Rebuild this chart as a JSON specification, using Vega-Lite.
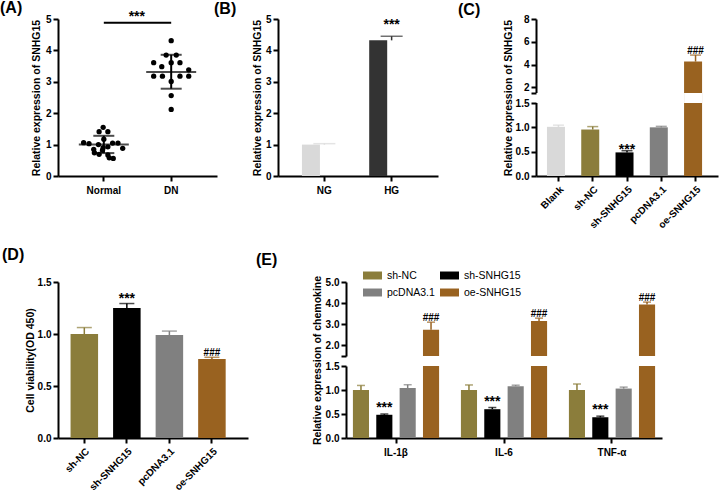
{
"$schema": "https://vega.github.io/schema/vega-lite/v6.json",
"autosize": {"type": "none"},
"padding": {"left": 58, "top": 19, "right": 662, "bottom": 473},
"background": "white",
"config": {
  "font": "Liberation Sans",
  "view": {"stroke": null},
  "axis": {"domain": true, "ticks": true, "labelOverlap": false, "domainColor": "#000", "domainWidth": 2, "tickColor": "#000", "tickWidth": 2, "tickSize": 5, "labelFont": "Liberation Sans", "labelFontSize": 10, "labelFontWeight": "bold", "labelColor": "#000", "titleFont": "Liberation Sans", "titleFontSize": 10.5, "titleFontWeight": "bold", "titleColor": "#000", "grid": false, "labelPadding": 2, "titlePadding": 4},
  "title": {"fontSize": 16, "fontWeight": "bold", "anchor": "start", "frame": "group", "color": "#000", "font": "Liberation Sans"}
},
"datasets": {
  "A": [
    {"g": "Normal", "v": 1.55, "j": -0.01}, {"g": "Normal", "v": 1.41, "j": -0.07}, {"g": "Normal", "v": 1.41, "j": 0.06},
    {"g": "Normal", "v": 1.17, "j": 0.0}, {"g": "Normal", "v": 1.06, "j": -0.30}, {"g": "Normal", "v": 1.03, "j": -0.22},
    {"g": "Normal", "v": 1.0, "j": -0.08}, {"g": "Normal", "v": 1.05, "j": 0.13}, {"g": "Normal", "v": 1.05, "j": 0.21},
    {"g": "Normal", "v": 0.93, "j": 0.06}, {"g": "Normal", "v": 0.85, "j": -0.15}, {"g": "Normal", "v": 0.88, "j": 0.28},
    {"g": "Normal", "v": 0.82, "j": -0.02}, {"g": "Normal", "v": 0.74, "j": -0.14}, {"g": "Normal", "v": 0.69, "j": -0.07},
    {"g": "Normal", "v": 0.67, "j": 0.06}, {"g": "Normal", "v": 0.58, "j": 0.08}, {"g": "Normal", "v": 0.56, "j": 0.14},
    {"g": "Normal", "v": 0.9, "j": -0.01},
    {"g": "DN", "v": 4.31, "j": 0.0}, {"g": "DN", "v": 3.85, "j": -0.075}, {"g": "DN", "v": 3.85, "j": 0.075},
    {"g": "DN", "v": 3.61, "j": -0.26}, {"g": "DN", "v": 3.48, "j": -0.14}, {"g": "DN", "v": 3.61, "j": 0.0},
    {"g": "DN", "v": 3.61, "j": 0.13}, {"g": "DN", "v": 3.38, "j": 0.26}, {"g": "DN", "v": 3.18, "j": -0.26},
    {"g": "DN", "v": 3.18, "j": -0.13}, {"g": "DN", "v": 3.01, "j": 0.0}, {"g": "DN", "v": 3.18, "j": 0.13},
    {"g": "DN", "v": 3.18, "j": 0.26}, {"g": "DN", "v": 2.56, "j": 0.0}, {"g": "DN", "v": 2.12, "j": 0.0}
  ],
  "Asum": [
    {"g": "Normal", "mean": 1.0, "lo": 0.73, "hi": 1.28},
    {"g": "DN", "mean": 3.31, "lo": 2.78, "hi": 3.86}
  ],
  "Asig": [{"a": "Normal", "b": "DN", "y": 4.88, "t": "***"}],
  "B": [
    {"g": "NG", "v": 1.0, "hi": 1.03, "star": ""},
    {"g": "HG", "v": 4.32, "hi": 4.45, "star": "***"}
  ],
  "C": [
    {"g": "Blank", "v": 1.01, "hi": 1.045, "star": "", "hash": ""},
    {"g": "sh-NC", "v": 0.955, "hi": 1.015, "star": "", "hash": ""},
    {"g": "sh-SNHG15", "v": 0.485, "hi": 0.52, "star": "***", "hash": ""},
    {"g": "pcDNA3.1", "v": 1.0, "hi": 1.02, "star": "", "hash": ""},
    {"g": "oe-SNHG15", "v": 4.26, "hi": 4.83, "star": "", "hash": "###"}
  ],
  "D": [
    {"g": "sh-NC", "v": 1.0, "hi": 1.062, "star": "", "hash": ""},
    {"g": "sh-SNHG15", "v": 1.25, "hi": 1.293, "star": "***", "hash": ""},
    {"g": "pcDNA3.1", "v": 0.99, "hi": 1.028, "star": "", "hash": ""},
    {"g": "oe-SNHG15", "v": 0.76, "hi": 0.776, "star": "", "hash": "###"}
  ],
  "E": [
    {"c": "IL-1β", "g": "sh-NC", "v": 1.0, "hi": 1.095, "star": "", "hash": ""},
    {"c": "IL-1β", "g": "sh-SNHG15", "v": 0.484, "hi": 0.5, "star": "***", "hash": ""},
    {"c": "IL-1β", "g": "pcDNA3.1", "v": 1.04, "hi": 1.11, "star": "", "hash": ""},
    {"c": "IL-1β", "g": "oe-SNHG15", "v": 2.74, "hi": 3.1, "star": "", "hash": "###"},
    {"c": "IL-6", "g": "sh-NC", "v": 1.0, "hi": 1.105, "star": "", "hash": ""},
    {"c": "IL-6", "g": "sh-SNHG15", "v": 0.6, "hi": 0.635, "star": "***", "hash": ""},
    {"c": "IL-6", "g": "pcDNA3.1", "v": 1.08, "hi": 1.1, "star": "", "hash": ""},
    {"c": "IL-6", "g": "oe-SNHG15", "v": 3.16, "hi": 3.29, "star": "", "hash": "###"},
    {"c": "TNF-α", "g": "sh-NC", "v": 1.0, "hi": 1.125, "star": "", "hash": ""},
    {"c": "TNF-α", "g": "sh-SNHG15", "v": 0.43, "hi": 0.455, "star": "***", "hash": ""},
    {"c": "TNF-α", "g": "pcDNA3.1", "v": 1.03, "hi": 1.06, "star": "", "hash": ""},
    {"c": "TNF-α", "g": "oe-SNHG15", "v": 3.93, "hi": 4.05, "star": "", "hash": "###"}
  ],
  "empty": []
},
"bounds": "flush",
"spacing": 263,
"resolve": {"scale": {"color": "independent"}, "legend": {"color": "independent"}},
"vconcat": [
 {
  "bounds": "flush",
  "spacing": 0,
  "resolve": {"scale": {"color": "independent"}, "legend": {"color": "independent"}},
  "hconcat": [
  {
    "width": 159, "height": 157,
    "title": {"text": "(A)", "dx": -58, "offset": -6},
    "layer": [
      {
        "data": {"name": "A"},
        "mark": {"type": "circle", "size": 28, "opacity": 1, "color": "#000"},
        "encoding": {
          "x": {"field": "g", "type": "nominal", "title": null, "scale": {"domain": ["Normal", "DN"], "paddingInner": 0, "paddingOuter": 0.18}, "axis": {"labelAngle": 0, "values": ["Normal", "DN"], "labelPadding": 4}},
          "xOffset": {"field": "j", "type": "quantitative", "scale": {"domain": [-1, 1], "range": [-33.7, 101.1]}},
          "y": {"field": "v", "type": "quantitative", "title": "Relative expression of SNHG15", "scale": {"domain": [0, 5]}, "axis": {"values": [0, 1, 2, 3, 4, 5]}}
        }
      },
      {
        "data": {"name": "Asum"},
        "mark": {"type": "tick", "orient": "horizontal", "size": 50, "thickness": 2, "color": "#000"},
        "encoding": {
          "x": {"field": "g", "type": "nominal", "title": null, "scale": {"domain": ["Normal", "DN"], "paddingInner": 0, "paddingOuter": 0.18}, "axis": {"labelAngle": 0, "values": ["Normal", "DN"], "labelPadding": 4}},
          "y": {"field": "mean", "type": "quantitative", "title": "Relative expression of SNHG15", "scale": {"domain": [0, 5]}, "axis": {"values": [0, 1, 2, 3, 4, 5]}}
        }
      },
      {
        "data": {"name": "Asum"},
        "mark": {"type": "rule", "strokeWidth": 2, "color": "#000"},
        "encoding": {
          "x": {"field": "g", "type": "nominal", "title": null, "scale": {"domain": ["Normal", "DN"], "paddingInner": 0, "paddingOuter": 0.18}, "axis": {"labelAngle": 0, "values": ["Normal", "DN"], "labelPadding": 4}},
          "y": {"field": "lo", "type": "quantitative", "title": "Relative expression of SNHG15", "scale": {"domain": [0, 5]}, "axis": {"values": [0, 1, 2, 3, 4, 5]}},
          "y2": {"field": "hi"}
        }
      },
      {
        "data": {"name": "Asum"},
        "mark": {"type": "tick", "orient": "horizontal", "size": 21, "thickness": 2, "color": "#000"},
        "encoding": {
          "x": {"field": "g", "type": "nominal", "title": null, "scale": {"domain": ["Normal", "DN"], "paddingInner": 0, "paddingOuter": 0.18}, "axis": {"labelAngle": 0, "values": ["Normal", "DN"], "labelPadding": 4}},
          "y": {"field": "lo", "type": "quantitative", "title": "Relative expression of SNHG15", "scale": {"domain": [0, 5]}, "axis": {"values": [0, 1, 2, 3, 4, 5]}}
        }
      },
      {
        "data": {"name": "Asum"},
        "mark": {"type": "tick", "orient": "horizontal", "size": 21, "thickness": 2, "color": "#000"},
        "encoding": {
          "x": {"field": "g", "type": "nominal", "title": null, "scale": {"domain": ["Normal", "DN"], "paddingInner": 0, "paddingOuter": 0.18}, "axis": {"labelAngle": 0, "values": ["Normal", "DN"], "labelPadding": 4}},
          "y": {"field": "hi", "type": "quantitative", "title": "Relative expression of SNHG15", "scale": {"domain": [0, 5]}, "axis": {"values": [0, 1, 2, 3, 4, 5]}}
        }
      },
      {
        "data": {"name": "Asig"},
        "mark": {"type": "rule", "strokeWidth": 2, "color": "#000"},
        "encoding": {
          "x": {"field": "a", "type": "nominal", "title": null, "scale": {"domain": ["Normal", "DN"], "paddingInner": 0, "paddingOuter": 0.18}, "axis": {"labelAngle": 0, "values": ["Normal", "DN"], "labelPadding": 4}},
          "x2": {"field": "b"},
          "y": {"field": "y", "type": "quantitative", "title": "Relative expression of SNHG15", "scale": {"domain": [0, 5]}, "axis": {"values": [0, 1, 2, 3, 4, 5]}}
        }
      },
      {
        "data": {"name": "Asig"},
        "mark": {"type": "text", "fontSize": 14, "fontWeight": "bold", "baseline": "alphabetic", "dx": 33, "dy": -2, "color": "#000"},
        "encoding": {
          "x": {"field": "a", "type": "nominal", "title": null, "scale": {"domain": ["Normal", "DN"], "paddingInner": 0, "paddingOuter": 0.18}, "axis": {"labelAngle": 0, "values": ["Normal", "DN"], "labelPadding": 4}},
          "y": {"field": "y", "type": "quantitative", "title": "Relative expression of SNHG15", "scale": {"domain": [0, 5]}, "axis": {"values": [0, 1, 2, 3, 4, 5]}},
          "text": {"field": "t"}
        }
      }
    ]
  },
  {"width": 61, "height": 157, "data": {"name": "empty"}, "mark": {"type": "point", "opacity": 0}, "encoding": {}},
  {
    "width": 160, "height": 157,
    "title": {"text": "(B)", "dx": -64, "offset": -3},
    "data": {"name": "B"},
    "encoding": {
      "x": {"field": "g", "type": "nominal", "title": null, "scale": {"domain": ["NG", "HG"], "paddingInner": 0.333, "paddingOuter": 0.356}, "axis": {"labelAngle": 0, "labelPadding": 4}},
      "color": {"field": "g", "type": "nominal", "scale": {"domain": ["NG", "HG"], "range": ["#d9d9d9", "#333333"]}, "legend": null}
    },
    "layer": [
      {"mark": {"type": "bar"}, "encoding": {"y": {"field": "v", "type": "quantitative", "title": "Relative expression of SNHG15", "scale": {"domain": [0, 5]}, "axis": {"values": [0, 1, 2, 3, 4, 5], "titlePadding": 3}}}},
      {"mark": {"type": "rule", "strokeWidth": 1.5}, "encoding": {"y": {"field": "v", "type": "quantitative", "title": "Relative expression of SNHG15", "scale": {"domain": [0, 5]}, "axis": {"values": [0, 1, 2, 3, 4, 5], "titlePadding": 3}}, "y2": {"field": "hi"}}},
      {"mark": {"type": "tick", "orient": "horizontal", "size": 22, "thickness": 1.5}, "encoding": {"y": {"field": "hi", "type": "quantitative", "title": "Relative expression of SNHG15", "scale": {"domain": [0, 5]}, "axis": {"values": [0, 1, 2, 3, 4, 5], "titlePadding": 3}}}},
      {"mark": {"type": "text", "fontSize": 14, "fontWeight": "bold", "baseline": "alphabetic", "dy": -7}, "encoding": {"y": {"field": "hi", "type": "quantitative", "title": "Relative expression of SNHG15", "scale": {"domain": [0, 5]}, "axis": {"values": [0, 1, 2, 3, 4, 5], "titlePadding": 3}}, "text": {"field": "star"}, "color": {"value": "#000"}}}
    ]
  },
  {"width": 98, "height": 157, "data": {"name": "empty"}, "mark": {"type": "point", "opacity": 0}, "encoding": {}},
  {
    "width": 182, "height": 157,
    "title": {"text": "(C)", "dx": -78, "offset": -4},
    "data": {"name": "C"},
    "encoding": {
      "x": {"field": "g", "type": "nominal", "title": null, "scale": {"domain": ["Blank", "sh-NC", "sh-SNHG15", "pcDNA3.1", "oe-SNHG15"], "paddingInner": 0.33, "paddingOuter": 0.32}, "axis": {"labelAngle": -45, "labelPadding": 3}},
      "color": {"field": "g", "type": "nominal", "scale": {"domain": ["Blank", "sh-NC", "sh-SNHG15", "pcDNA3.1", "oe-SNHG15"], "range": ["#d9d9d9", "#8b7d3b", "#000000", "#808080", "#996220"]}, "legend": null}
    },
    "layer": [
      {"mark": {"type": "bar"}, "encoding": {"y": {"field": "v", "type": "quantitative", "title": "Relative expression of SNHG15", "scale": {"domain": [0, 1.5, 1.5001, 8], "range": [157, 84, 74, 0], "nice": false, "zero": false}, "axis": {"values": [0, 0.5, 1, 1.5, 1.5001, 2, 4, 6, 8], "labelExpr": "datum.value == 1.5001 ? '' : datum.value < 1.6 ? format(datum.value, '.1f') : format(datum.value, 'd')", "domainDash": [73.5, 10, 300], "titlePadding": 2}}}},
      {"mark": {"type": "bar"}, "encoding": {"y": {"datum": 1.5, "type": "quantitative", "title": "Relative expression of SNHG15", "scale": {"domain": [0, 1.5, 1.5001, 8], "range": [157, 84, 74, 0], "nice": false, "zero": false}, "axis": {"values": [0, 0.5, 1, 1.5, 1.5001, 2, 4, 6, 8], "labelExpr": "datum.value == 1.5001 ? '' : datum.value < 1.6 ? format(datum.value, '.1f') : format(datum.value, 'd')", "domainDash": [73.5, 10, 300], "titlePadding": 2}}, "y2": {"datum": 1.5001}, "color": {"value": "#ffffff"}}},
      {"mark": {"type": "rule", "strokeWidth": 1.5}, "encoding": {"y": {"field": "v", "type": "quantitative", "title": "Relative expression of SNHG15", "scale": {"domain": [0, 1.5, 1.5001, 8], "range": [157, 84, 74, 0], "nice": false, "zero": false}, "axis": {"values": [0, 0.5, 1, 1.5, 1.5001, 2, 4, 6, 8], "labelExpr": "datum.value == 1.5001 ? '' : datum.value < 1.6 ? format(datum.value, '.1f') : format(datum.value, 'd')", "domainDash": [73.5, 10, 300], "titlePadding": 2}}, "y2": {"field": "hi"}}},
      {"mark": {"type": "tick", "orient": "horizontal", "size": 11, "thickness": 1.5}, "encoding": {"y": {"field": "hi", "type": "quantitative", "title": "Relative expression of SNHG15", "scale": {"domain": [0, 1.5, 1.5001, 8], "range": [157, 84, 74, 0], "nice": false, "zero": false}, "axis": {"values": [0, 0.5, 1, 1.5, 1.5001, 2, 4, 6, 8], "labelExpr": "datum.value == 1.5001 ? '' : datum.value < 1.6 ? format(datum.value, '.1f') : format(datum.value, 'd')", "domainDash": [73.5, 10, 300], "titlePadding": 2}}}},
      {"mark": {"type": "text", "fontSize": 14, "fontWeight": "bold", "baseline": "alphabetic", "dy": 3.5}, "encoding": {"y": {"field": "hi", "type": "quantitative", "title": "Relative expression of SNHG15", "scale": {"domain": [0, 1.5, 1.5001, 8], "range": [157, 84, 74, 0], "nice": false, "zero": false}, "axis": {"values": [0, 0.5, 1, 1.5, 1.5001, 2, 4, 6, 8], "labelExpr": "datum.value == 1.5001 ? '' : datum.value < 1.6 ? format(datum.value, '.1f') : format(datum.value, 'd')", "domainDash": [73.5, 10, 300], "titlePadding": 2}}, "text": {"field": "star"}, "color": {"value": "#000"}}},
      {"mark": {"type": "text", "fontSize": 10, "fontWeight": "bold", "baseline": "alphabetic", "dy": -1.5}, "encoding": {"y": {"field": "hi", "type": "quantitative", "title": "Relative expression of SNHG15", "scale": {"domain": [0, 1.5, 1.5001, 8], "range": [157, 84, 74, 0], "nice": false, "zero": false}, "axis": {"values": [0, 0.5, 1, 1.5, 1.5001, 2, 4, 6, 8], "labelExpr": "datum.value == 1.5001 ? '' : datum.value < 1.6 ? format(datum.value, '.1f') : format(datum.value, 'd')", "domainDash": [73.5, 10, 300], "titlePadding": 2}}, "text": {"field": "hash"}, "color": {"value": "#000"}}}
    ]
  }
  ]
 },
 {
  "bounds": "flush",
  "spacing": 0,
  "resolve": {"scale": {"color": "independent"}, "legend": {"color": "independent"}},
  "hconcat": [
  {
    "width": 190, "height": 156,
    "title": {"text": "(D)", "dx": -56, "offset": 14},
    "data": {"name": "D"},
    "encoding": {
      "x": {"field": "g", "type": "nominal", "title": null, "scale": {"domain": ["sh-NC", "sh-SNHG15", "pcDNA3.1", "oe-SNHG15"], "paddingInner": 0.353, "paddingOuter": 0.41, "align": 0.36}, "axis": {"labelAngle": -45, "labelPadding": 3}},
      "color": {"field": "g", "type": "nominal", "scale": {"domain": ["sh-NC", "sh-SNHG15", "pcDNA3.1", "oe-SNHG15"], "range": ["#8b7d3b", "#000000", "#808080", "#996220"]}, "legend": null}
    },
    "layer": [
      {"mark": {"type": "bar"}, "encoding": {"y": {"field": "v", "type": "quantitative", "title": "Cell viability(OD 450)", "scale": {"domain": [0, 1.5]}, "axis": {"values": [0, 0.5, 1, 1.5], "format": ".1f", "titlePadding": 2}}}},
      {"mark": {"type": "rule", "strokeWidth": 1.5}, "encoding": {"y": {"field": "v", "type": "quantitative", "title": "Cell viability(OD 450)", "scale": {"domain": [0, 1.5]}, "axis": {"values": [0, 0.5, 1, 1.5], "format": ".1f", "titlePadding": 2}}, "y2": {"field": "hi"}}},
      {"mark": {"type": "tick", "orient": "horizontal", "size": 15, "thickness": 1.5}, "encoding": {"y": {"field": "hi", "type": "quantitative", "title": "Cell viability(OD 450)", "scale": {"domain": [0, 1.5]}, "axis": {"values": [0, 0.5, 1, 1.5], "format": ".1f", "titlePadding": 2}}}},
      {"mark": {"type": "text", "fontSize": 14, "fontWeight": "bold", "baseline": "alphabetic", "dy": -1}, "encoding": {"y": {"field": "hi", "type": "quantitative", "title": "Cell viability(OD 450)", "scale": {"domain": [0, 1.5]}, "axis": {"values": [0, 0.5, 1, 1.5], "format": ".1f", "titlePadding": 2}}, "text": {"field": "star"}, "color": {"value": "#000"}}},
      {"mark": {"type": "text", "fontSize": 10, "fontWeight": "bold", "baseline": "alphabetic", "dy": -1}, "encoding": {"y": {"field": "hi", "type": "quantitative", "title": "Cell viability(OD 450)", "scale": {"domain": [0, 1.5]}, "axis": {"values": [0, 0.5, 1, 1.5], "format": ".1f", "titlePadding": 2}}, "text": {"field": "hash"}, "color": {"value": "#000"}}}
    ]
  },
  {
    "width": 98, "height": 156,
    "data": {"name": "E"},
    "mark": {"type": "square", "filled": true, "opacity": 0},
    "encoding": {
      "color": {"field": "g", "type": "nominal", "scale": {"domain": ["sh-NC", "sh-SNHG15", "pcDNA3.1", "oe-SNHG15"], "range": ["#8b7d3b", "#000000", "#808080", "#996220"]},
        "legend": {"orient": "none", "legendX": 115, "legendY": -16, "columns": 2, "direction": "horizontal", "title": null, "symbolType": "M-1,-0.42H1V0.42H-1Z", "symbolSize": 361, "symbolStrokeWidth": 0, "symbolOpacity": 1, "labelFont": "Liberation Sans", "labelFontSize": 10.5, "labelFontWeight": "normal", "labelColor": "#000", "labelOffset": 5, "columnPadding": 5, "rowPadding": 2, "padding": 0}}
    }
  },
  {
    "vconcat": [
      {
        "width": 316, "height": 74,
        "title": {"text": "(E)", "dx": -90, "offset": 9},
        "data": {"name": "E"},
        "encoding": {
          "x": {"field": "c", "type": "nominal", "title": null, "scale": {"domain": ["IL-1β", "IL-6", "TNF-α"], "paddingInner": 0.135, "paddingOuter": 0.0305}, "axis": null},
          "xOffset": {"field": "g", "type": "nominal", "scale": {"domain": ["sh-NC", "sh-SNHG15", "pcDNA3.1", "oe-SNHG15"], "paddingInner": 0.31, "paddingOuter": 0.155}},
          "color": {"field": "g", "type": "nominal", "scale": {"domain": ["sh-NC", "sh-SNHG15", "pcDNA3.1", "oe-SNHG15"], "range": ["#8b7d3b", "#000000", "#808080", "#996220"]}, "legend": null}
        },
        "layer": [
          {"mark": {"type": "bar", "clip": true}, "encoding": {"y": {"field": "v", "type": "quantitative", "title": null, "scale": {"domain": [1.5, 5], "zero": false, "nice": false}, "axis": {"values": [1.5, 2, 3, 4, 5], "labelExpr": "datum.value == 1.5 ? '' : datum.label"}}}},
          {"mark": {"type": "rule", "strokeWidth": 1.5, "clip": true}, "encoding": {"y": {"field": "v", "type": "quantitative", "title": null, "scale": {"domain": [1.5, 5], "zero": false, "nice": false}, "axis": {"values": [1.5, 2, 3, 4, 5], "labelExpr": "datum.value == 1.5 ? '' : datum.label"}}, "y2": {"field": "hi"}}},
          {"mark": {"type": "tick", "orient": "horizontal", "size": 8, "thickness": 1.5, "clip": true}, "encoding": {"y": {"field": "hi", "type": "quantitative", "title": null, "scale": {"domain": [1.5, 5], "zero": false, "nice": false}, "axis": {"values": [1.5, 2, 3, 4, 5], "labelExpr": "datum.value == 1.5 ? '' : datum.label"}}}},
          {"mark": {"type": "text", "fontSize": 10, "fontWeight": "bold", "baseline": "alphabetic", "dy": -1.5}, "encoding": {"y": {"field": "hi", "type": "quantitative", "title": null, "scale": {"domain": [1.5, 5], "zero": false, "nice": false}, "axis": {"values": [1.5, 2, 3, 4, 5], "labelExpr": "datum.value == 1.5 ? '' : datum.label"}}, "text": {"field": "hash"}, "color": {"value": "#000"}}}
        ]
      },
      {
        "width": 316, "height": 72,
        "data": {"name": "E"},
        "encoding": {
          "x": {"field": "c", "type": "nominal", "title": null, "scale": {"domain": ["IL-1β", "IL-6", "TNF-α"], "paddingInner": 0.135, "paddingOuter": 0.0305}, "axis": {"labelAngle": 0, "labelPadding": 4}},
          "xOffset": {"field": "g", "type": "nominal", "scale": {"domain": ["sh-NC", "sh-SNHG15", "pcDNA3.1", "oe-SNHG15"], "paddingInner": 0.31, "paddingOuter": 0.155}},
          "color": {"field": "g", "type": "nominal", "scale": {"domain": ["sh-NC", "sh-SNHG15", "pcDNA3.1", "oe-SNHG15"], "range": ["#8b7d3b", "#000000", "#808080", "#996220"]}, "legend": null}
        },
        "layer": [
          {"mark": {"type": "bar", "clip": true}, "encoding": {"y": {"field": "v", "type": "quantitative", "title": "Relative expression of chemokine", "scale": {"domain": [0, 1.5]}, "axis": {"values": [0, 0.5, 1, 1.5], "format": ".1f", "titleY": -6, "titlePadding": 3}}}},
          {"mark": {"type": "rule", "strokeWidth": 1.5, "clip": true}, "encoding": {"y": {"field": "v", "type": "quantitative", "title": "Relative expression of chemokine", "scale": {"domain": [0, 1.5]}, "axis": {"values": [0, 0.5, 1, 1.5], "format": ".1f", "titleY": -6, "titlePadding": 3}}, "y2": {"field": "hi"}}},
          {"mark": {"type": "tick", "orient": "horizontal", "size": 8, "thickness": 1.5, "clip": true}, "encoding": {"y": {"field": "hi", "type": "quantitative", "title": "Relative expression of chemokine", "scale": {"domain": [0, 1.5]}, "axis": {"values": [0, 0.5, 1, 1.5], "format": ".1f", "titleY": -6, "titlePadding": 3}}}},
          {"mark": {"type": "text", "fontSize": 14, "fontWeight": "bold", "baseline": "alphabetic", "dy": -2, "clip": true}, "encoding": {"y": {"field": "hi", "type": "quantitative", "title": "Relative expression of chemokine", "scale": {"domain": [0, 1.5]}, "axis": {"values": [0, 0.5, 1, 1.5], "format": ".1f", "titleY": -6, "titlePadding": 3}}, "text": {"field": "star"}, "color": {"value": "#000"}}}
        ]
      }
    ],
    "spacing": 10,
    "bounds": "flush",
    "resolve": {"scale": {"color": "independent"}, "legend": {"color": "independent"}}
  }
  ]
 }
]
}
